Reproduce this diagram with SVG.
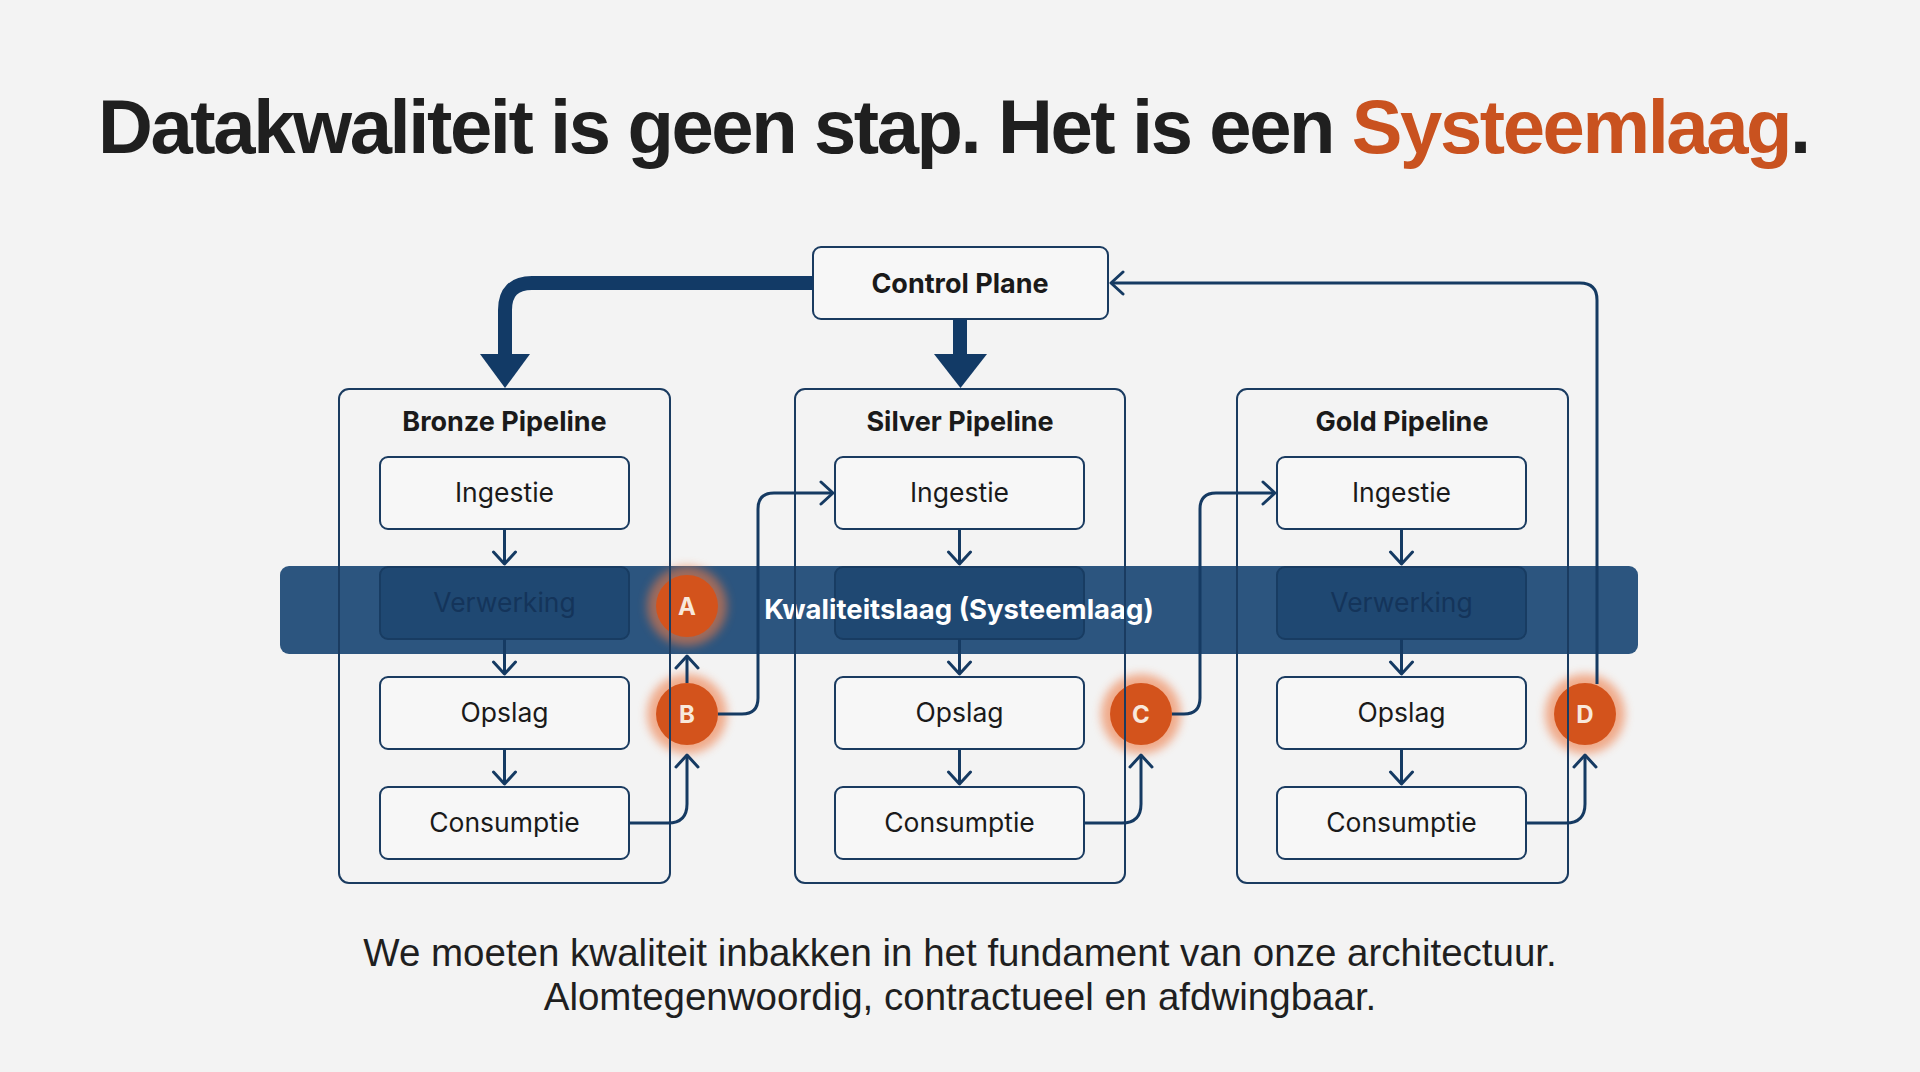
<svg xmlns="http://www.w3.org/2000/svg" width="1920" height="1072" viewBox="0 0 1920 1072">
<defs>
<style>
.title{font-family:"Liberation Sans",Arial,sans-serif;font-weight:700;font-size:76px;fill:#1f1f1f;letter-spacing:-2.4px}
.accent{fill:#c9521f}
.frame{fill:none;stroke:#1a3b60;stroke-width:2}
.box{fill:#f7f7f7;stroke:#1a3b60;stroke-width:2}
.boxdim{fill:#1f4872;stroke:#183c62;stroke-width:2}
.lbl{font-family:Inter,"Noto Sans",sans-serif;font-size:26.5px;fill:#1a1a1a;text-anchor:middle}
.lbldim{font-family:Inter,"Noto Sans",sans-serif;font-size:26.5px;fill:#14345a;text-anchor:middle}
.head{font-family:Inter,"Noto Sans",sans-serif;font-size:27px;font-weight:700;fill:#1a1a1a;text-anchor:middle}
.band{fill:#234e7a;opacity:0.96}
.bandtxt{font-family:Inter,"Noto Sans",sans-serif;font-size:27.5px;font-weight:700;fill:#ffffff;text-anchor:middle}
.conn{fill:none;stroke:#153a62;stroke-width:3;stroke-linejoin:round}
.heavy{fill:none;stroke:#123a66;stroke-width:14}
.heavyhead{fill:#123a66}
.dot{fill:#d3531c}
.glow{fill:#ee7a45;opacity:0.6}
.dotlbl{font-family:Inter,"Noto Sans",sans-serif;font-size:24px;font-weight:700;fill:#f8e8dc;text-anchor:middle}
.sub{font-family:"Liberation Sans",Arial,sans-serif;font-size:38.5px;fill:#1f1f1f;text-anchor:middle}
</style>
<marker id="chev" markerUnits="userSpaceOnUse" viewBox="-14 -14 28 28" markerWidth="28" markerHeight="28" refX="0" refY="0" orient="auto">
<path d="M-12,-11 L0,0 L-12,11" fill="none" stroke="#153a62" stroke-width="3" stroke-linejoin="round" stroke-linecap="round"/>
</marker>
<filter id="blur" x="-50%" y="-50%" width="200%" height="200%"><feGaussianBlur stdDeviation="5"/></filter>
</defs>
<rect width="1920" height="1072" fill="#f3f3f3"/>

<text class="title" x="98" y="153">Datakwaliteit is geen stap. Het is een <tspan class="accent">Systeemlaag</tspan>.</text>

<g id="control-plane">
<rect class="box" x="813" y="247" width="295" height="72" rx="8"/>
<text class="head" x="960" y="293">Control Plane</text>
</g>

<g id="bronze-pipeline">
<text class="head" x="504.5" y="431">Bronze Pipeline</text>
<g id="bronze-ingestie"><rect class="box" x="380" y="457" width="249" height="72" rx="8"/><text class="lbl" x="504.5" y="502">Ingestie</text></g>
<g id="bronze-opslag"><rect class="box" x="380" y="677" width="249" height="72" rx="8"/><text class="lbl" x="504.5" y="722">Opslag</text></g>
<g id="bronze-consumptie"><rect class="box" x="380" y="787" width="249" height="72" rx="8"/><text class="lbl" x="504.5" y="832">Consumptie</text></g>
</g>

<g id="silver-pipeline">
<text class="head" x="960" y="431">Silver Pipeline</text>
<g id="silver-ingestie"><rect class="box" x="835" y="457" width="249" height="72" rx="8"/><text class="lbl" x="959.5" y="502">Ingestie</text></g>
<g id="silver-opslag"><rect class="box" x="835" y="677" width="249" height="72" rx="8"/><text class="lbl" x="959.5" y="722">Opslag</text></g>
<g id="silver-consumptie"><rect class="box" x="835" y="787" width="249" height="72" rx="8"/><text class="lbl" x="959.5" y="832">Consumptie</text></g>
</g>

<g id="gold-pipeline">
<text class="head" x="1402" y="431">Gold Pipeline</text>
<g id="gold-ingestie"><rect class="box" x="1277" y="457" width="249" height="72" rx="8"/><text class="lbl" x="1401.5" y="502">Ingestie</text></g>
<g id="gold-opslag"><rect class="box" x="1277" y="677" width="249" height="72" rx="8"/><text class="lbl" x="1401.5" y="722">Opslag</text></g>
<g id="gold-consumptie"><rect class="box" x="1277" y="787" width="249" height="72" rx="8"/><text class="lbl" x="1401.5" y="832">Consumptie</text></g>
</g>

<g id="kwaliteitslaag">
<rect class="band" x="280" y="566" width="1358" height="88" rx="9"/>
<g id="bronze-verwerking"><rect class="boxdim" x="380" y="567" width="249" height="72" rx="8"/><text class="lbldim" x="504.5" y="612">Verwerking</text></g>
<g id="silver-verwerking"><rect class="boxdim" x="835" y="567" width="249" height="72" rx="8"/></g>
<g id="gold-verwerking"><rect class="boxdim" x="1277" y="567" width="249" height="72" rx="8"/><text class="lbldim" x="1401.5" y="612">Verwerking</text></g>
<text class="bandtxt" x="959" y="619">Kwaliteitslaag (Systeemlaag)</text>
</g>

<g id="checkpoints">
<g id="cp-a"><circle class="glow" cx="687" cy="606" r="40" filter="url(#blur)"/><circle class="dot" cx="687" cy="606" r="31"/><text class="dotlbl" x="687" y="615">A</text></g>
<g id="cp-b"><circle class="glow" cx="687" cy="714" r="40" filter="url(#blur)"/><circle class="dot" cx="687" cy="714" r="31"/><text class="dotlbl" x="687" y="723">B</text></g>
<g id="cp-c"><circle class="glow" cx="1141" cy="714" r="40" filter="url(#blur)"/><circle class="dot" cx="1141" cy="714" r="31"/><text class="dotlbl" x="1141" y="723">C</text></g>
<g id="cp-d"><circle class="glow" cx="1585" cy="714" r="40" filter="url(#blur)"/><circle class="dot" cx="1585" cy="714" r="31"/><text class="dotlbl" x="1585" y="723">D</text></g>
</g>

<g id="pipeline-frames">
<rect class="frame" x="339" y="389" width="331" height="494" rx="10"/>
<rect class="frame" x="795" y="389" width="330" height="494" rx="10"/>
<rect class="frame" x="1237" y="389" width="331" height="494" rx="10"/>
</g>

<g id="connectors">
<path class="heavy" d="M813,283 H532 Q505,283 505,310 V356"/>
<polygon class="heavyhead" points="480,354 530,354 505,388"/>
<path class="heavy" d="M960,319 V356" stroke-width="16"/>
<polygon class="heavyhead" points="934,354 987,354 960.5,388"/>

<path class="conn" marker-end="url(#chev)" d="M504.5,529 V564"/>
<path class="conn" marker-end="url(#chev)" d="M504.5,639 V674"/>
<path class="conn" marker-end="url(#chev)" d="M504.5,749 V784"/>
<path class="conn" marker-end="url(#chev)" d="M959.5,529 V564"/>
<path class="conn" marker-end="url(#chev)" d="M959.5,639 V674"/>
<path class="conn" marker-end="url(#chev)" d="M959.5,749 V784"/>
<path class="conn" marker-end="url(#chev)" d="M1401.5,529 V564"/>
<path class="conn" marker-end="url(#chev)" d="M1401.5,639 V674"/>
<path class="conn" marker-end="url(#chev)" d="M1401.5,749 V784"/>

<path class="conn" marker-end="url(#chev)" d="M629,823 H668 Q687,823 687,804 V755"/>
<path class="conn" marker-end="url(#chev)" d="M687,683 V656"/>
<path class="conn" marker-end="url(#chev)" d="M718,714 H742 Q758,714 758,698 V509 Q758,493 774,493 H833"/>
<path class="conn" marker-end="url(#chev)" d="M1084,823 H1122 Q1141,823 1141,804 V755"/>
<path class="conn" marker-end="url(#chev)" d="M1172,714 H1184 Q1200,714 1200,698 V509 Q1200,493 1216,493 H1275"/>
<path class="conn" marker-end="url(#chev)" d="M1526,823 H1566 Q1585,823 1585,804 V755"/>
<path class="conn" marker-end="url(#chev)" d="M1597,684 V300 Q1597,283 1580,283 H1111"/>
</g>

<text class="sub" x="960" y="966">We moeten kwaliteit inbakken in het fundament van onze architectuur.</text>
<text class="sub" x="960" y="1010">Alomtegenwoordig, contractueel en afdwingbaar.</text>
</svg>
